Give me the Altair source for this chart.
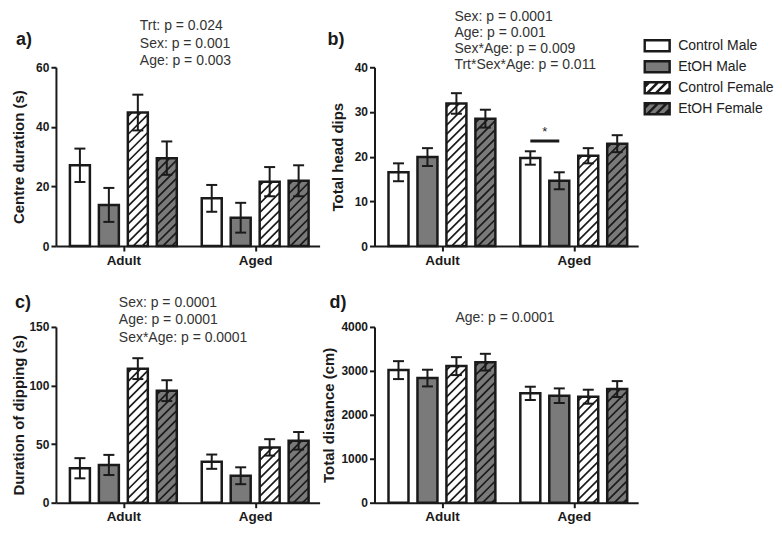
import altair as alt
import pandas as pd

# ---------------- data ----------------
ages = ["Adult", "Aged"]
groups = ["Control Male", "EtOH Male", "Control Female", "EtOH Female"]
treatments = ["Control", "EtOH", "Control", "EtOH"]
sexes = ["Male", "Male", "Female", "Female"]

# order: Adult (4 groups) then Aged (4 groups)
centre_mean = [27.1, 13.8, 44.8, 29.5, 16.0, 9.5, 21.6, 21.9]
centre_sem = [5.6, 5.7, 6.0, 5.6, 4.5, 5.0, 4.9, 5.2]
dips_mean = [16.5, 19.9, 31.9, 28.5, 19.7, 14.6, 20.2, 22.9]
dips_sem = [2.0, 2.0, 2.3, 2.0, 1.5, 1.9, 1.7, 1.9]
dipdur_mean = [29.4, 32.2, 114.4, 95.6, 35.0, 23.0, 47.2, 52.8]
dipdur_sem = [8.6, 8.6, 8.9, 8.9, 6.1, 7.2, 7.0, 7.5]
dist_mean = [3017, 2836, 3108, 3198, 2488, 2435, 2412, 2586]
dist_sem = [204, 190, 204, 190, 151, 166, 159, 181]

notes_a = ["Trt: p = 0.024", "Sex: p = 0.001", "Age: p = 0.003"]
notes_b = ["Sex: p = 0.0001", "Age: p = 0.001", "Sex*Age: p = 0.009", "Trt*Sex*Age: p = 0.011"]
notes_c = ["Sex: p = 0.0001", "Age: p = 0.0001", "Sex*Age: p = 0.0001"]
notes_d = ["Age: p = 0.0001"]

sig_age_index = [1]
sig_first = [0]
sig_second = [1]
sig_level = [23.5]
sig_label = ["*"]

# ---------------- style / layout ----------------
FONT = "Liberation Sans"
INK = "#1a1a1a"
GRAY = "#7a7a7a"
TXT = "#333333"
W = 264
M, G, S, BW, CAP, P = 14, 132, 29, 20, 5.5, 9

RECT = "M-1,-0.44H1V0.44H-1Z"
HATCH = (RECT + "M-1,-0.06L-0.62,-0.44M-0.8,0.44L0.08,-0.44"
         "M-0.1,0.44L0.78,-0.44M0.6,0.44L1,0.04")


def table(mean, sem):
    rows = []
    for gi, age in enumerate(ages):
        for si, grp in enumerate(groups):
            i = gi * len(groups) + si
            rows.append(dict(age=age, group=grp, gi=gi, si=si, trt=treatments[si],
                             sex=sexes[si], mean=mean[i], sem=sem[i]))
    return pd.DataFrame(rows)


ONE = pd.DataFrame({"k": [0]})


def panel(mean, sem, ymax, ystep, ytitle, H, title_x, label, label_xy,
          notes, notes_xy, line_h, legend=False, sig=False):
    k = H / ymax
    xs = alt.Scale(domain=[0, W], nice=False, zero=False)
    ys = alt.Scale(domain=[0, ymax], nice=False)
    centers = [M + gi * G + (3 * S + BW) / 2 for gi in range(len(ages))]
    xaxis = alt.Axis(values=centers, title=None, grid=False,
                     labelExpr=f"datum.value < {G} ? '{ages[0]}' : '{ages[1]}'",
                     labelFontSize=13.5, labelPadding=2)
    yaxis = alt.Axis(values=list(range(0, ymax + 1, ystep)), title=ytitle, grid=False,
                     format="d", labelFontSize=12, labelPadding=2, titleX=title_x)

    def X(f):
        return alt.X(f, scale=xs, axis=xaxis)

    def Y(f):
        return alt.Y(f, scale=ys, axis=yaxis)

    base = (alt.Chart(table(mean, sem))
            .transform_calculate(x0=f"{M} + datum.gi*{G} + datum.si*{S}")
            .transform_calculate(x1=f"datum.x0 + {BW}")
            .transform_calculate(xc=f"datum.x0 + {BW / 2}")
            .transform_calculate(lo="datum.mean - datum.sem")
            .transform_calculate(hi="datum.mean + datum.sem")
            .transform_calculate(cl=f"datum.xc - {CAP}")
            .transform_calculate(cr=f"datum.xc + {CAP}"))

    bars = base.mark_bar(strokeWidth=0).encode(
        x=X("x0:Q"), x2="x1:Q", y=Y("mean:Q"), y2=alt.datum(0),
        fill=alt.condition("datum.trt == 'EtOH'", alt.value(GRAY), alt.value("white")))

    hatch = (base.transform_filter("datum.sex == 'Female'")
             .transform_calculate(ks="sequence(0, 40)")
             .transform_flatten(["ks"])
             .transform_calculate(hp=f"datum.mean * {k}")
             .transform_calculate(c=f"datum.ks * {P} - datum.hp + 4")
             .transform_calculate(ra="max(0, datum.c)")
             .transform_calculate(rb=f"min({BW}, datum.hp + datum.c)")
             .transform_filter("datum.rb > datum.ra")
             .transform_calculate(hx1="datum.x0 + datum.ra")
             .transform_calculate(hx2="datum.x0 + datum.rb")
             .transform_calculate(hy1=f"(datum.ra - datum.c) / {k}")
             .transform_calculate(hy2=f"(datum.rb - datum.c) / {k}")
             .mark_rule(stroke=INK, strokeWidth=1.7)
             .encode(x=X("hx1:Q"), x2="hx2:Q", y=Y("hy1:Q"), y2="hy2:Q"))

    outline = base.mark_bar(fillOpacity=0, stroke=INK, strokeWidth=2.5).encode(
        x=X("x0:Q"), x2="x1:Q", y=Y("mean:Q"), y2=alt.datum(0))

    err = base.mark_rule(stroke=INK, strokeWidth=2).encode(
        x=X("xc:Q"), y=Y("lo:Q"), y2="hi:Q")
    cap_hi = base.mark_rule(stroke=INK, strokeWidth=2).encode(
        x=X("cl:Q"), x2="cr:Q", y=Y("hi:Q"))
    cap_lo = base.mark_rule(stroke=INK, strokeWidth=2).encode(
        x=X("cl:Q"), x2="cr:Q", y=Y("lo:Q"))

    note = alt.Chart(ONE).mark_text(align="left", baseline="alphabetic", font=FONT,
                                    fontSize=14, color=TXT, lineHeight=line_h).encode(
        x=alt.value(notes_xy[0]), y=alt.value(notes_xy[1]), text=alt.value(notes))
    lab = alt.Chart(ONE).mark_text(align="left", baseline="alphabetic", font=FONT,
                                   fontSize=18, fontWeight="bold", color=INK).encode(
        x=alt.value(label_xy[0]), y=alt.value(label_xy[1]), text=alt.value(label))

    layers = [bars, hatch, outline, err, cap_hi, cap_lo, note, lab]

    if sig:
        sdf = pd.DataFrame({"gi": sig_age_index, "s1": sig_first, "s2": sig_second,
                            "level": sig_level, "lab": sig_label})
        sbase = (alt.Chart(sdf)
                 .transform_calculate(xa=f"{M} + datum.gi*{G} + datum.s1*{S} + {BW / 2}")
                 .transform_calculate(xb=f"{M} + datum.gi*{G} + datum.s2*{S} + {BW / 2}")
                 .transform_calculate(xm="(datum.xa + datum.xb) / 2"))
        layers.append(sbase.mark_rule(stroke=INK, strokeWidth=3).encode(
            x=X("xa:Q"), x2="xb:Q", y=Y("level:Q")))
        layers.append(sbase.mark_text(baseline="bottom", dy=-2, font=FONT, fontSize=13,
                                      fill=INK).encode(
            x=X("xm:Q"), y=Y("level:Q"), text="lab:N"))

    if legend:
        L = alt.Legend(title=None, orient="none", legendX=269, legendY=-32, padding=0,
                       rowPadding=0, clipHeight=21, symbolSize=625, symbolStrokeWidth=2.5,
                       labelFont=FONT, labelFontSize=14,
                       labelColor="#222222", labelOffset=7)
        leg = (base.transform_filter("false")
               .mark_point(filled=True, opacity=1, size=625, strokeWidth=2.5)
               .encode(
                   fill=alt.Fill("group:N", legend=L, scale=alt.Scale(
                       domain=groups,
                       range=["white" if t == "Control" else GRAY for t in treatments])),
                   stroke=alt.Stroke("group:N", legend=L, scale=alt.Scale(
                       domain=groups, range=[INK for _ in groups])),
                   shape=alt.Shape("group:N", legend=L, scale=alt.Scale(
                       domain=groups,
                       range=[RECT if s == "Male" else HATCH for s in sexes]))))
        layers.append(leg)

    return alt.layer(*layers).properties(width=W, height=H)


H1, H2 = 179, 176
pa = panel(centre_mean, centre_sem, 60, 20, "Centre duration (s)", H1, -29, "a)",
           (-40, -22), notes_a, (84, -37), 17.5)
pb = panel(dips_mean, dips_sem, 40, 10, "Total head dips", H1, -29, "b)",
           (-47, -22), notes_b, (80, -46), 16, legend=True, sig=True)
pc = panel(dipdur_mean, dipdur_sem, 150, 50, "Duration of dipping (s)", H2, -29, "c)",
           (-41, -19), notes_c, (63, -20), 17.5)
pdd = panel(dist_mean, dist_sem, 4000, 1000, "Total distance (cm)", H2, -38, "d)",
            (-45, -19), notes_d, (81, -5), 17.5)

chart = (alt.concat(pa, pb, pc, pdd, columns=2, spacing={"row": 81, "column": 55},
                    bounds="flush")
         .resolve_scale(fill="independent", shape="independent", stroke="independent")
         .properties(padding={"top": 2, "left": 4, "right": 0, "bottom": 0})
         .configure_view(strokeWidth=0)
         .configure_axis(labelFont=FONT, labelFontWeight="bold", labelColor=INK,
                         titleFont=FONT, titleFontWeight="bold", titleFontSize=15,
                         titleColor=INK, domainColor=INK, domainWidth=2,
                         tickColor=INK, tickWidth=2, tickSize=5))

chart.save("out.html", embed_options={"renderer": "svg", "actions": False})
